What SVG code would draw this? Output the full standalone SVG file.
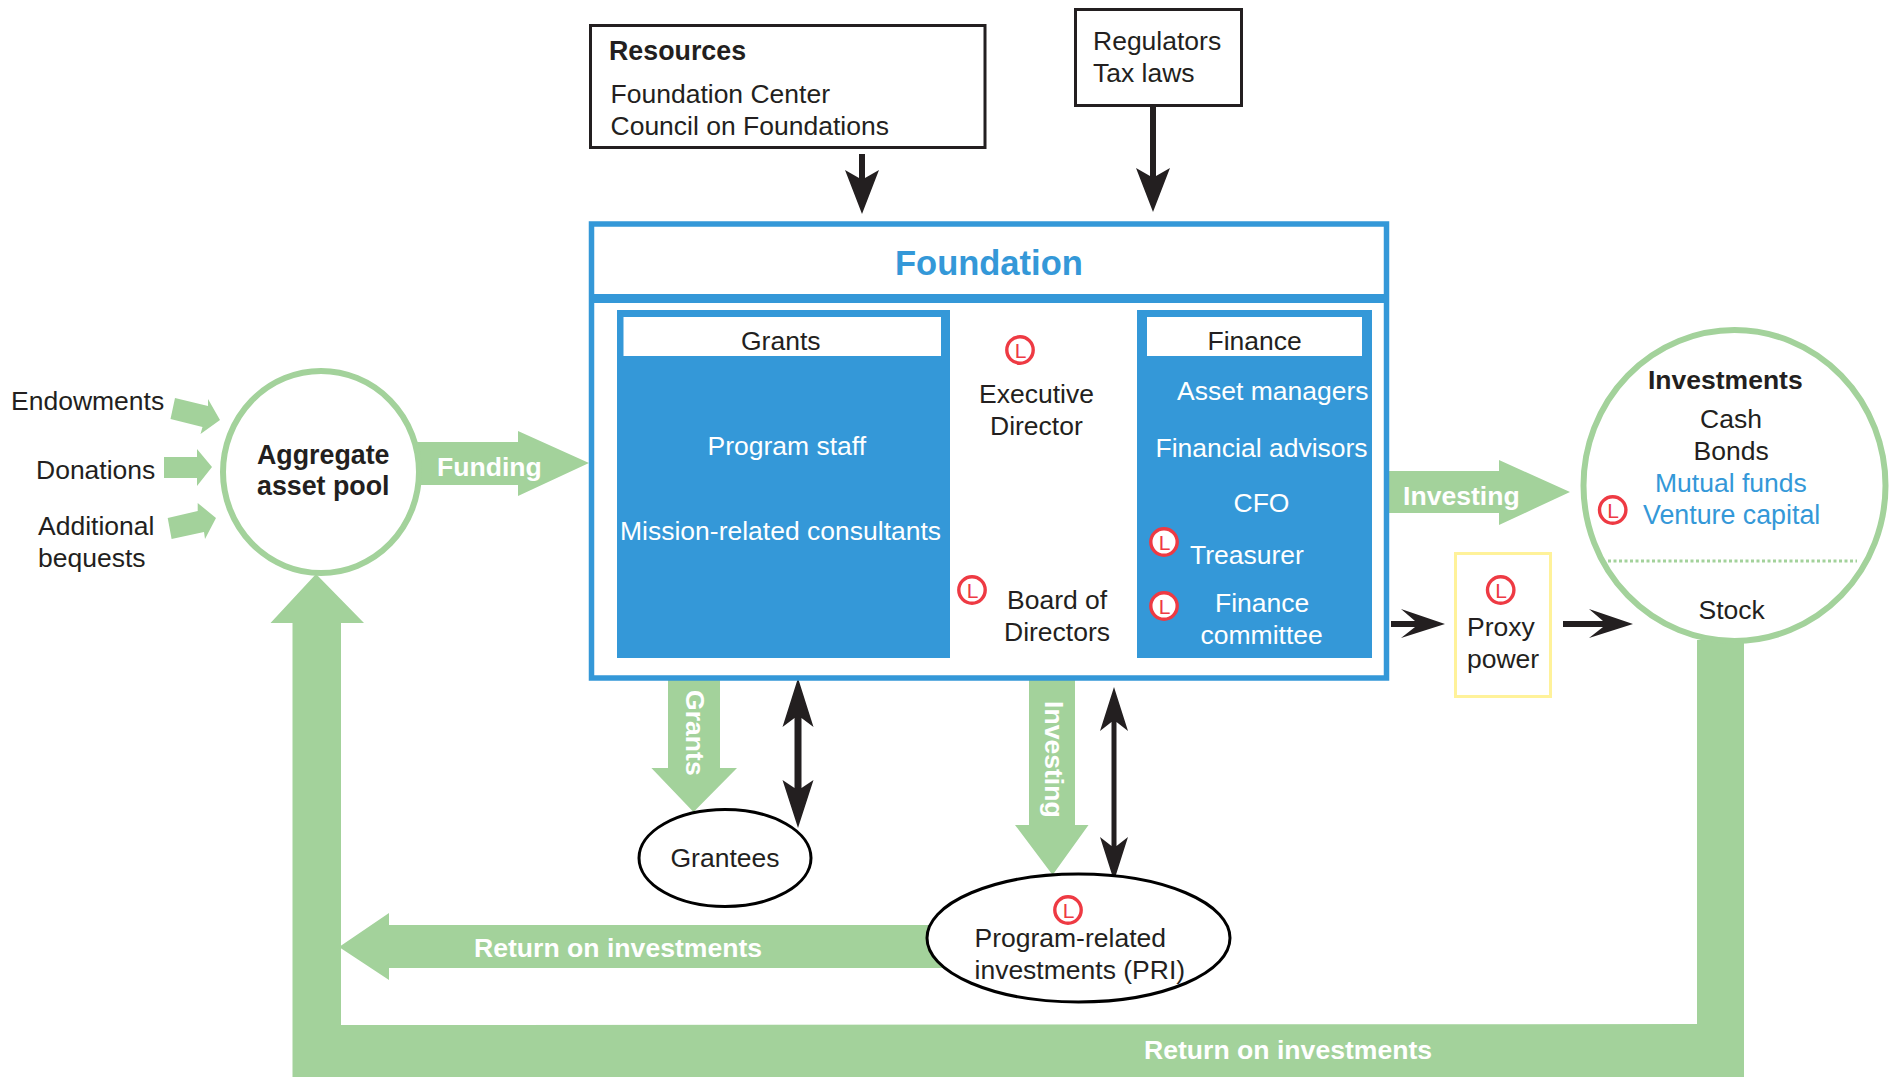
<svg xmlns="http://www.w3.org/2000/svg" width="1903" height="1077" viewBox="0 0 1903 1077">
<style>
text{font-family:"Liberation Sans",Arial,sans-serif;font-size:26.5px;fill:#231f20}
.b{font-weight:bold;font-size:26.8px}
.w{fill:#fff}
.wb{fill:#fff;font-weight:bold;font-size:26.6px}
.bl{fill:#3498d8}
.g{fill:#a3d29b}
.k{fill:#231f20}
.lc{fill:none;stroke:#ee3a43;stroke-width:3.4}
.lcw{fill:#fff;stroke:#ee3a43;stroke-width:3.4}
.lt{fill:#ee3a43;font-size:21px;text-anchor:middle}
</style>
<defs>
<g id="lic"><circle r="13.2" class="lc"/><text class="lt" y="8" x="0.5">L</text></g>
<g id="licw"><circle r="13.2" class="lcw"/><text class="lt" y="8" x="0.5">L</text></g>
</defs>
<rect width="1903" height="1077" fill="#fff"/>
<g id="connectors">
<polygon class="g" points="175,398 208,406 208,399 220,420 200.5,434 202.5,427 170.5,419"/>
<polygon class="g" points="164,457 197,457 197,449 212,467 197,486 197,478 164,478"/>
<polygon class="g" points="167.7,518 197.7,511 197.7,503 216,518 205,539 204,532 171.6,539"/>
<polygon class="g" points="416,442 518,442 518,431 589,463 518,496 518,485 416,485"/>
<polygon class="g" points="1389,471 1499,471 1499,460 1570,492 1499,525 1499,513 1389,513"/>
<polygon class="g" points="292.500,1077 292.500,623 270.5,623 316,574 364,623 341,623 341,1025 1697,1024 1697,640 1744,640 1744,1077"/>
<polygon class="g" points="965,925 389,925 389,913 339,947 389,980 389,968 965,968"/>
<polygon class="g" points="668,680 720,680 720,768 737,768 693.5,812 651.4,768 668,768"/>
<polygon class="g" points="1029,680 1075,680 1075,825 1088.5,825 1052.6,875 1015,825 1029,825"/>
<g id="black-arrows">
<path class="k" d="M859 154h6v24l14-8-17 44-17-44 14 8z"/>
<path class="k" d="M1150 107h6v69l14-8-17 44-17-44 14 8z"/>
<path class="k" d="M1391 621h24l-14-12 44 15-44 14 14-11h-24z"/>
<path class="k" d="M1563 621h40l-14-12 44 15-44 14 14-11h-40z"/>
<path class="k" d="M798 678l15.500 49-12-9v70l12-8-15.500 48-15.500-48 12 8v-70l-12 9z"/>
<path class="k" d="M1114 687l14 44-11.500-9v124l11.500-9-14 44-14-44 11.500 9v-124l-11.500 9z"/>
</g>
<text class="wb" x="437" y="476">Funding</text>
<text class="wb" x="1403" y="505">Investing</text>
<text class="wb" x="474" y="957">Return on investments</text>
<text class="wb" x="1144" y="1059">Return on investments</text>
<text class="wb" transform="translate(686 690) rotate(90)">Grants</text>
<text class="wb" transform="translate(1045 701) rotate(90)">Investing</text>
</g>
<g id="inputs">
<text x="11" y="410">Endowments</text>
<text x="36" y="479">Donations</text>
<text x="38" y="535">Additional</text>
<text x="38" y="567">bequests</text>
</g>
<g id="aggregate">
<ellipse cx="321" cy="472" rx="98" ry="101" fill="#fff" stroke="#a3d29b" stroke-width="6"/>
<text class="b" x="257" y="464">Aggregate</text>
<text class="b" x="257" y="495">asset pool</text>
</g>
<g id="resources">
<rect x="590.500" y="25.500" width="394.500" height="122" fill="#fff" stroke="#231f20" stroke-width="3"/>
<text class="b" x="609" y="60">Resources</text>
<text x="610.500" y="103">Foundation Center</text>
<text x="610.500" y="135">Council on Foundations</text>
</g>
<g id="regulators">
<rect x="1075.500" y="9.500" width="166" height="96" fill="#fff" stroke="#231f20" stroke-width="3"/>
<text x="1093" y="50">Regulators</text>
<text x="1093" y="82">Tax laws</text>
</g>
<g id="foundation">
<rect x="591.500" y="224" width="795" height="454" fill="#fff" stroke="#3498d8" stroke-width="5.500"/>
<rect x="591" y="294" width="796" height="9" fill="#3498d8"/>
<text class="b bl" x="895" y="275" style="font-size:34.500px">Foundation</text>
</g>
<g id="grants">
<rect x="617" y="310" width="333" height="348" fill="#3498d8"/>
<rect x="623.500" y="317" width="317.500" height="39" fill="#fff"/>
<text x="741" y="350">Grants</text>
<text class="w" x="707.500" y="455">Program staff</text>
<text class="w" x="620" y="540">Mission-related consultants</text>
</g>
<g id="executive">
<use href="#lic" x="1020" y="350"/>
<text x="979" y="403">Executive</text>
<text x="990" y="435">Director</text>
</g>
<g id="board">
<use href="#lic" x="972" y="590"/>
<text x="1007" y="609">Board of</text>
<text x="1004" y="641">Directors</text>
</g>
<g id="finance">
<rect x="1137" y="310" width="235" height="348" fill="#3498d8"/>
<rect x="1147" y="317" width="215" height="39" fill="#fff"/>
<text x="1207.500" y="350">Finance</text>
<text class="w" x="1177" y="400">Asset managers</text>
<text class="w" x="1155.500" y="457">Financial advisors</text>
<text class="w" x="1233.500" y="512">CFO</text>
<use href="#licw" x="1164" y="542"/>
<text class="w" x="1190" y="564">Treasurer</text>
<use href="#licw" x="1164" y="606"/>
<text class="w" x="1215" y="612">Finance</text>
<text class="w" x="1200.500" y="644">committee</text>
</g>
<g id="investments">
<ellipse cx="1734.500" cy="485.500" rx="151" ry="155.500" fill="#fff" stroke="#a3d29b" stroke-width="6"/>
<line x1="1608" y1="561" x2="1857" y2="561" stroke="#a3d29b" stroke-width="3" stroke-dasharray="3 2.500"/>
<text class="b" x="1648" y="389" style="font-size:26.500px">Investments</text>
<text x="1700" y="428">Cash</text>
<text x="1693.500" y="460">Bonds</text>
<text class="bl" x="1655" y="492">Mutual funds</text>
<use href="#lic" x="1612.700" y="510"/>
<text class="bl" x="1643" y="524" style="font-size:26.800px">Venture capital</text>
<text x="1698.500" y="619">Stock</text>
</g>
<g id="proxy">
<rect x="1455.500" y="553.500" width="95" height="143" fill="#fff" stroke="#fff29a" stroke-width="3"/>
<use href="#lic" x="1500.700" y="590"/>
<text x="1467" y="636">Proxy</text>
<text x="1467" y="668">power</text>
</g>
<g id="grantees">
<ellipse cx="725" cy="858" rx="86" ry="48.500" fill="#fff" stroke="#000" stroke-width="3"/>
<text x="670.500" y="867">Grantees</text>
</g>
<g id="pri">
<ellipse cx="1078.500" cy="938" rx="151.500" ry="64" fill="#fff" stroke="#000" stroke-width="3"/>
<use href="#lic" x="1068" y="910"/>
<text x="974.500" y="947">Program-related</text>
<text x="974.500" y="979">investments (PRI)</text>
</g>
</svg>
